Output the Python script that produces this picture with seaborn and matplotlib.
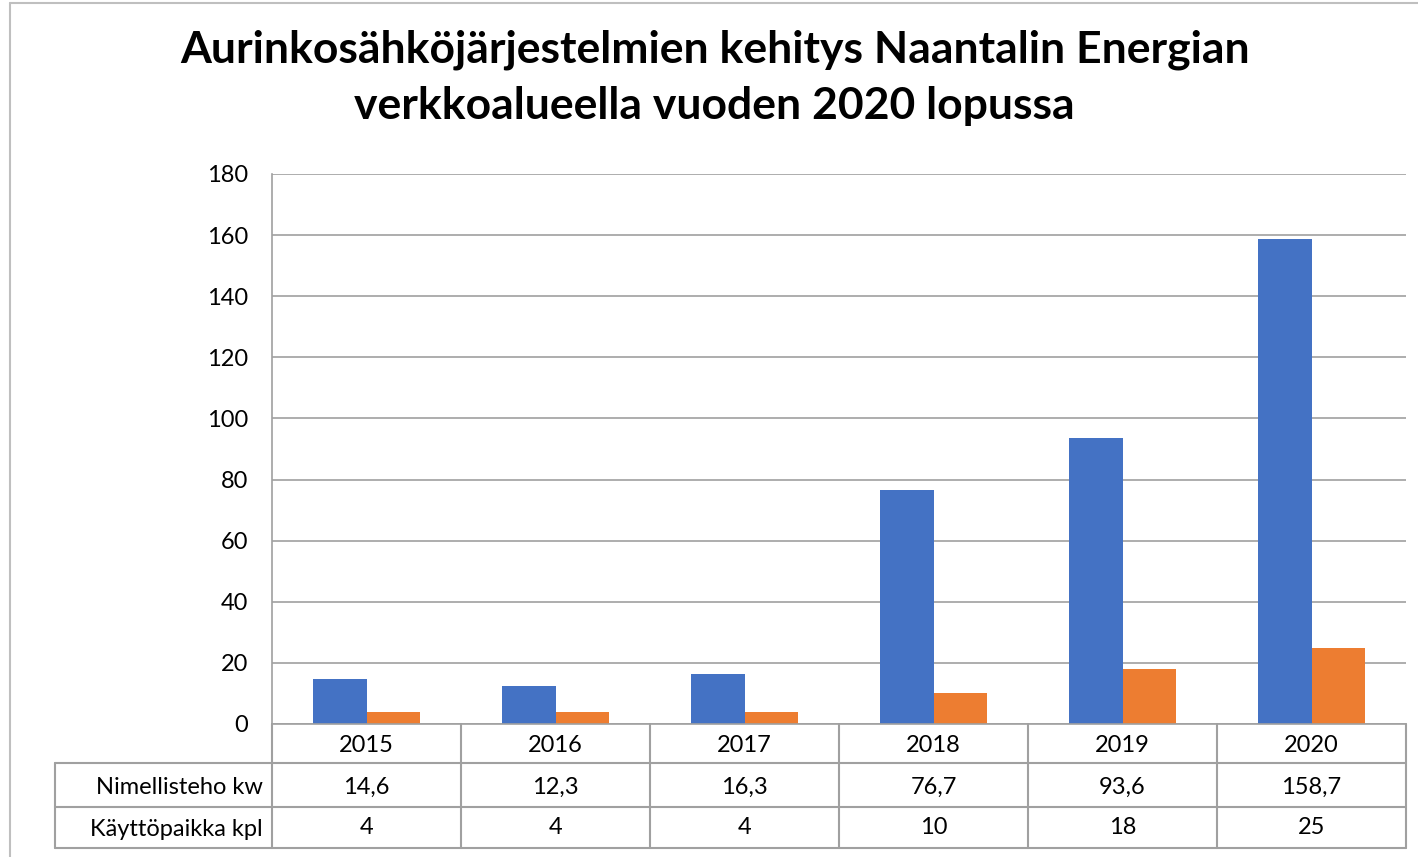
import pandas as pd
import matplotlib.pyplot as plt
import matplotlib.transforms as mtransforms
import seaborn as sns

# data
years = ['2015', '2016', '2017', '2018', '2019', '2020']
teho_kw = [14.6, 12.3, 16.3, 76.7, 93.6, 158.7]
kayttopaikat = [4, 4, 4, 10, 18, 25]
series_names = ['Nimellisteho kw', 'Käyttöpaikka kpl']
teho_labels = ['14,6', '12,3', '16,3', '76,7', '93,6', '158,7']
paikka_labels = ['4', '4', '4', '10', '18', '25']

df = pd.DataFrame({
    'vuosi': years * 2,
    'arvo': teho_kw + kayttopaikat,
    'sarja': [series_names[0]] * 6 + [series_names[1]] * 6,
})

sns.set_style('white')
plt.rcParams['font.family'] = ['Lato', 'DejaVu Sans']

W, H = 1418, 857
fig = plt.figure(figsize=(W / 100, H / 100), dpi=100)
ax = fig.add_axes([272 / W, 1 - 724 / H, (1406 - 272) / W, (724 - 174) / H])

sns.barplot(data=df, x='vuosi', y='arvo', hue='sarja', palette=['#4472C4', '#ED7D31'],
            width=0.57, saturation=1, legend=False, linewidth=0, ax=ax)

grid_c = '#A0A0A0'
ax.set_ylim(0, 180)
ax.set_xlim(-0.5, 5.5)
ax.set_yticks(range(0, 181, 20))
ax.yaxis.grid(True, color=grid_c, lw=1.2)
ax.set_axisbelow(True)
ax.tick_params(axis='y', labelsize=17, pad=17, length=0, labelcolor='black')
ax.set_xticks([])
ax.set_xlabel('')
ax.set_ylabel('')
for s in ['top', 'right']:
    ax.spines[s].set_visible(False)
ax.spines['left'].set_color(grid_c)
ax.spines['bottom'].set_color(grid_c)
ax.spines['left'].set_linewidth(1.2)
ax.spines['bottom'].set_linewidth(1.2)

# data table below the plot
ah = 724 - 174
y_rows = [0, -39 / ah, -83 / ah, -124 / ah]
x_left = (55 - 272) / (1406 - 272)
trans = mtransforms.blended_transform_factory(ax.transData, ax.transAxes)
lk = dict(color=grid_c, lw=1.5, clip_on=False)
for i in range(len(years) + 1):
    ax.plot([i - 0.5, i - 0.5], [y_rows[0], y_rows[3]], transform=trans, **lk)
for y in y_rows[1:]:
    ax.plot([x_left, 1], [y, y], transform=ax.transAxes, **lk)
ax.plot([x_left, x_left], [y_rows[1], y_rows[3]], transform=ax.transAxes, **lk)

tk = dict(fontsize=17, color='black', ha='center', va='center', transform=trans)
for i, yr in enumerate(years):
    ax.text(i, (y_rows[0] + y_rows[1]) / 2 - 0.004, yr, **tk)
    ax.text(i, (y_rows[1] + y_rows[2]) / 2 - 0.004, teho_labels[i], **tk)
    ax.text(i, (y_rows[2] + y_rows[3]) / 2, paikka_labels[i], **tk)
for j, name in enumerate(series_names):
    ax.text(-0.55, (y_rows[j + 1] + y_rows[j + 2]) / 2 - 0.004, name, fontsize=17, color='black',
            ha='right', va='center', transform=trans)

# title
fig.text(0.504, 1 - 50 / H, 'Aurinkosähköjärjestelmien kehitys Naantalin Energian',
         fontsize=32, fontweight='bold', color='black', ha='center', va='center')
fig.text(0.504, 1 - 106 / H, 'verkkoalueella vuoden 2020 lopussa',
         fontsize=32, fontweight='bold', color='black', ha='center', va='center')

# chart area border
fig.add_artist(plt.Line2D([10 / W, 10 / W], [0, 1 - 3 / H], color='#BFBFBF', lw=1.5))
fig.add_artist(plt.Line2D([10 / W, 1], [1 - 3 / H, 1 - 3 / H], color='#BFBFBF', lw=1.5))

fig.savefig('out.png', dpi=100)
